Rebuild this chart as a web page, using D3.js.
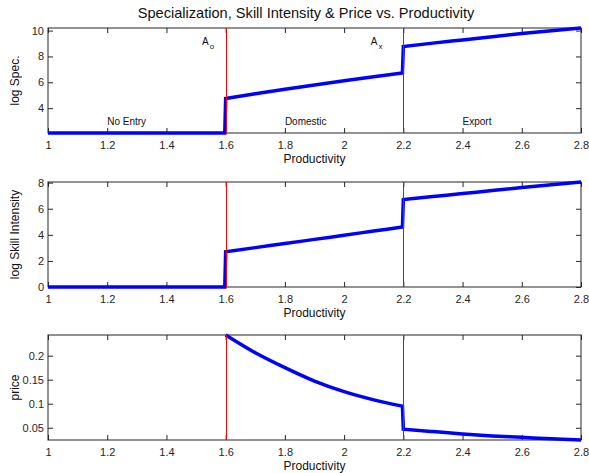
<!DOCTYPE html>
<html>
<head>
<meta charset="utf-8">
<script src="https://cdn.jsdelivr.net/npm/d3@7"></script>
<style>
  body { margin: 0; background: #fff; }
  svg { font-family: "Liberation Sans", Arial, Helvetica, sans-serif; }
</style>
</head>
<body>
<svg width="589" height="473"></svg>
<script>
// productivity grid (jumps just before the cutoffs)
const prodX = [1, 1.597, 1.6, 1.7, 1.8, 1.9, 2.0, 2.1, 2.197, 2.2, 2.3, 2.4, 2.5, 2.6, 2.7, 2.8];
const logSpec = [2.08, 2.08, 4.74, 5.12, 5.47, 5.8, 6.12, 6.43, 6.72, 8.77, 9.03, 9.28, 9.53, 9.77, 9.99, 10.2];
const logSkill = [0, 0, 2.7, 3.02, 3.33, 3.65, 3.97, 4.29, 4.6, 6.7, 6.93, 7.16, 7.4, 7.62, 7.84, 8.05];
const price = [null, null, 0.243, 0.206, 0.175, 0.147, 0.125, 0.108, 0.095, 0.047, 0.042, 0.037, 0.033, 0.030, 0.027, 0.0245];

// index ranges of each regime (smooth inside, straight jumps between)
const regimes = [[0, 1], [2, 8], [9, 15]];

const cutoffs = [1.6, 2.2];
const xTicks = [1, 1.2, 1.4, 1.6, 1.8, 2, 2.2, 2.4, 2.6, 2.8];

const regionLabels = [
  { x: 1.2, text: "No Entry" },
  { x: 1.8, text: "Domestic" },
  { x: 2.4, text: "Export" }
];
const cutoffLabels = [
  { x: 1.52, base: "A", sub: "o" },
  { x: 2.09, base: "A", sub: "x" }
];

const panels = [
  { top: 28, bottom: 133, values: logSpec, domain: [2.08, 10.2], ticks: [4, 6, 8, 10], label: "log Spec." },
  { top: 182, bottom: 287, values: logSkill, domain: [0, 8.05], ticks: [0, 2, 4, 6, 8], label: "log Skill Intensity" },
  { top: 335, bottom: 440, values: price, domain: [0.0245, 0.243], ticks: [0.05, 0.1, 0.15, 0.2], label: "price" }
];

const left = 48, right = 581;
const axisColor = "#262626";
const svg = d3.select("svg");

const x = d3.scaleLinear().domain([1, 2.8]).range([left, right]);

svg.append("text")
  .attr("x", 306).attr("y", 18)
  .attr("text-anchor", "middle")
  .style("font-size", "14.6px")
  .style("fill", "#111")
  .text("Specialization, Skill Intensity & Price vs. Productivity");

panels.forEach((p, i) => {
  const y = d3.scaleLinear().domain(p.domain).range([p.bottom, p.top]);
  const g = svg.append("g");

  // bottom axis with labels
  g.append("g")
    .attr("transform", `translate(0,${p.bottom})`)
    .call(d3.axisBottom(x).tickValues(xTicks).tickSizeInner(-5).tickSizeOuter(0).tickPadding(8).tickFormat(d => String(d)));
  // top axis, ticks only
  g.append("g")
    .attr("transform", `translate(0,${p.top})`)
    .call(d3.axisTop(x).tickValues(xTicks).tickSizeInner(-5).tickSizeOuter(0).tickFormat(""));
  // left axis with labels
  g.append("g")
    .attr("transform", `translate(${left},0)`)
    .call(d3.axisLeft(y).tickValues(p.ticks).tickSizeInner(-5).tickSizeOuter(0).tickPadding(4).tickFormat(d => String(d)));
  // right axis, ticks only
  g.append("g")
    .attr("transform", `translate(${right},0)`)
    .call(d3.axisRight(y).tickValues(p.ticks).tickSizeInner(-5).tickSizeOuter(0).tickFormat(""));

  g.selectAll(".domain").remove();
  g.selectAll(".tick line").attr("stroke", axisColor);
  g.selectAll(".tick text").style("font-size", "11px").style("fill", axisColor).attr("font-family", null);

  g.append("rect")
    .attr("x", left).attr("y", p.top)
    .attr("width", right - left).attr("height", p.bottom - p.top)
    .attr("fill", "none").attr("stroke", axisColor).attr("stroke-width", 1);

  // curve: smooth pieces per regime, straight jumps
  const pts = prodX.map((d, j) => [x(d), p.values[j] === null ? null : y(p.values[j])]);
  const smooth = d3.line().curve(d3.curveMonotoneX);
  let dStr = "";
  regimes.forEach(r => {
    const seg = pts.slice(r[0], r[1] + 1).filter(q => q[1] !== null);
    if (!seg.length) return;
    let s = smooth(seg);
    if (dStr) s = "L" + s.slice(1);
    dStr += s;
  });
  g.append("path")
    .attr("d", dStr)
    .attr("fill", "none")
    .attr("stroke", "#0000ff")
    .attr("stroke-width", 3.5)
    .attr("stroke-linejoin", "miter");

  // cutoff lines
  g.selectAll(".cut")
    .data(cutoffs)
    .join("line")
    .attr("class", "cut")
    .attr("x1", d => Math.round(x(d)) + 0.5).attr("x2", d => Math.round(x(d)) + 0.5)
    .attr("y1", p.top).attr("y2", p.bottom)
    .attr("stroke", "#ff0000").attr("stroke-width", 1)
    .attr("shape-rendering", "crispEdges");

  g.append("text")
    .attr("x", (left + right) / 2).attr("y", p.bottom + 30)
    .attr("text-anchor", "middle")
    .style("font-size", "12px").style("fill", "#111")
    .text("Productivity");

  g.append("text")
    .attr("transform", `translate(19,${(p.top + p.bottom) / 2}) rotate(-90)`)
    .attr("text-anchor", "middle")
    .style("font-size", "12px").style("fill", "#111")
    .text(p.label);

  if (i === 0) {
    g.selectAll(".region")
      .data(regionLabels)
      .join("text")
      .attr("x", d => x(d.x)).attr("y", p.bottom - 8)
      .style("font-size", "10px").style("fill", "#111")
      .text(d => d.text);

    const al = g.selectAll(".alab")
      .data(cutoffLabels)
      .join("text")
      .attr("x", d => x(d.x)).attr("y", 45)
      .style("font-size", "10px").style("fill", "#111");
    al.append("tspan").text(d => d.base);
    al.append("tspan").attr("dy", 4).attr("dx", 1).style("font-size", "8px").text(d => d.sub);
  }
});
</script>
</body>
</html>
